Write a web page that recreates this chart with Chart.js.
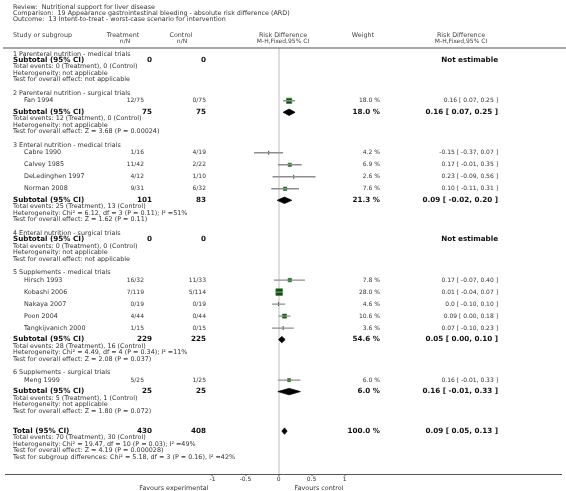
<!DOCTYPE html>
<html>
<head>
<meta charset="utf-8">
<script src="https://cdn.jsdelivr.net/npm/chart.js@4.4.1/dist/chart.umd.min.js"></script>
<style>
  html, body { margin: 0; padding: 0; background: #fff; }
  #wrap { width: 566px; height: 491px; }
</style>
</head>
<body>
<div id="wrap"><canvas id="forest" width="566" height="491"></canvas></div>
<script>
// ---- data ----
const titleLines = [
  "Review:  Nutritional support for liver disease",
  "Comparison:  19 Appearance gastrointestinal bleeding - absolute risk difference (ARD)",
  "Outcome:  13 Intent-to-treat - worst-case scenario for intervention"
];
const groupTitles = [
  "1 Parenteral nutrition - medical trials",
  "2 Parenteral nutrition - surgical trials",
  "3 Enteral nutrition - medical trials",
  "4 Enteral nutrition - surgical trials",
  "5 Supplements - medical trials",
  "6 Supplements - surgical trials"
];
const studyNames = ["Fan 1994", "Cabre 1990", "Calvey 1985", "DeLedinghen 1997", "Norman 2008",
  "Hirsch 1993", "Kobashi 2006", "Nakaya 2007", "Poon 2004", "Tangkijvanich 2000", "Meng 1999"];
const studyGroup = [1, 2, 2, 2, 2, 4, 4, 4, 4, 4, 5];
const treatmentNN = ["12/75", "1/16", "11/42", "4/12", "9/31", "16/32", "7/119", "0/19", "4/44", "1/15", "5/25"];
const controlNN = ["0/75", "4/19", "2/22", "1/10", "6/32", "11/33", "5/114", "0/19", "0/44", "0/15", "1/25"];
const studyWeight = [18.0, 4.2, 6.9, 2.6, 7.6, 7.8, 28.0, 4.6, 10.6, 3.6, 6.0];
const studyRD = [0.16, -0.15, 0.17, 0.23, 0.10, 0.17, 0.01, 0.0, 0.09, 0.07, 0.16];
const studyLow = [0.07, -0.37, -0.01, -0.09, -0.11, -0.07, -0.04, -0.10, 0.00, -0.10, -0.01];
const studyHigh = [0.25, 0.07, 0.35, 0.56, 0.31, 0.40, 0.07, 0.10, 0.18, 0.23, 0.33];

const subTreatment = [0, 75, 101, 0, 229, 25];
const subControl = [0, 75, 83, 0, 225, 25];
const subWeight = [null, 18.0, 21.3, null, 54.6, 6.0];
const subRD = [null, 0.16, 0.09, null, 0.05, 0.16];
const subLow = [null, 0.07, -0.02, null, 0.00, -0.01];
const subHigh = [null, 0.25, 0.20, null, 0.10, 0.33];
const subEvents = [
  "Total events: 0 (Treatment), 0 (Control)",
  "Total events: 12 (Treatment), 0 (Control)",
  "Total events: 25 (Treatment), 13 (Control)",
  "Total events: 0 (Treatment), 0 (Control)",
  "Total events: 28 (Treatment), 16 (Control)",
  "Total events: 5 (Treatment), 1 (Control)"
];
const subHetero = [
  "Heterogeneity: not applicable",
  "Heterogeneity: not applicable",
  "Heterogeneity: Chi\u00b2 = 6.12, df = 3 (P = 0.11); I\u00b2 =51%",
  "Heterogeneity: not applicable",
  "Heterogeneity: Chi\u00b2 = 4.49, df = 4 (P = 0.34); I\u00b2 =11%",
  "Heterogeneity: not applicable"
];
const subTest = [
  "Test for overall effect: not applicable",
  "Test for overall effect: Z = 3.68 (P = 0.00024)",
  "Test for overall effect: Z = 1.62 (P = 0.11)",
  "Test for overall effect: not applicable",
  "Test for overall effect: Z = 2.08 (P = 0.037)",
  "Test for overall effect: Z = 1.80 (P = 0.072)"
];

const totalTreatment = 430;
const totalControl = 408;
const totalWeight = 100.0;
const totalRD = 0.09;
const totalLow = 0.05;
const totalHigh = 0.13;
const totalNotes = [
  "Total events: 70 (Treatment), 30 (Control)",
  "Heterogeneity: Chi\u00b2 = 19.47, df = 10 (P = 0.03); I\u00b2 =49%",
  "Test for overall effect: Z = 4.19 (P = 0.000028)",
  "Test for subgroup differences: Chi\u00b2 = 5.18, df = 3 (P = 0.16), I\u00b2 =42%"
];

const tickValues = [-1, -0.5, 0, 0.5, 1];
const tickLabels = ["-1", "-0.5", "0", "0.5", "1"];

// ---- row layout (y in plot units, one unit = one pixel) ----
const HEAD_TO_STUDY = 7.5, STUDY_STEP = 12, STUDY_TO_SUB = 11.5, HEAD_TO_SUB = 6.3;
const NOTE_STEP = 6.5, GROUP_GAP = 13.5, TOTAL_GAP = 20;

const headY = [], subY = [], studyY = [];
let cursor = 54;
groupTitles.forEach((t, g) => {
  if (g > 0) cursor += GROUP_GAP;
  headY[g] = cursor;
  const members = studyNames.map((n, i) => i).filter((i) => studyGroup[i] === g);
  if (members.length) {
    cursor += HEAD_TO_STUDY;
    members.forEach((i, k) => {
      if (k > 0) cursor += STUDY_STEP;
      studyY[i] = cursor;
    });
    cursor += STUDY_TO_SUB;
  } else {
    cursor += HEAD_TO_SUB;
  }
  subY[g] = cursor;
  cursor += NOTE_STEP * 3;
});
const totalY = cursor + TOTAL_GAP;

// ---- datasets ----
const datasets = [];

studyNames.forEach((name, i) => {
  datasets.push({
    type: "line",
    data: [{ x: studyLow[i], y: studyY[i] }, { x: studyHigh[i], y: studyY[i] }],
    borderColor: "#8e8e8e",
    borderWidth: 1.4,
    pointRadius: 0,
    fill: false
  });
});

const small = (i) => studyWeight[i] < 5;
datasets.push({
  type: "scatter",
  data: studyNames.map((n, i) => ({ x: studyRD[i], y: studyY[i] })),
  pointStyle: (c) => (small(c.dataIndex) ? "line" : "rect"),
  rotation: (c) => (small(c.dataIndex) ? 90 : 0),
  pointRadius: (c) => (small(c.dataIndex) ? 2 : (1.25 * Math.sqrt(studyWeight[c.dataIndex])) / Math.SQRT2),
  backgroundColor: "#0d4a0d",
  borderColor: (c) => (small(c.dataIndex) ? "#444" : "#2c8a2c"),
  borderWidth: (c) => (small(c.dataIndex) ? 1 : 0.7)
});

function addDiamond(lo, est, hi, y, h) {
  datasets.push({
    type: "line",
    data: [{ x: lo, y: y }, { x: est, y: y - h }, { x: hi, y: y }],
    borderColor: "#000",
    borderWidth: 0.8,
    backgroundColor: "#000",
    pointRadius: 0,
    tension: 0,
    fill: "+1"
  });
  datasets.push({
    type: "line",
    data: [{ x: lo, y: y }, { x: est, y: y + h }, { x: hi, y: y }],
    borderColor: "#000",
    borderWidth: 0.8,
    pointRadius: 0,
    tension: 0,
    fill: false
  });
}
groupTitles.forEach((t, g) => {
  if (subRD[g] !== null) addDiamond(subLow[g], subRD[g], subHigh[g], subY[g], 3.2);
});
addDiamond(totalLow, totalRD, totalHigh, totalY, 3.2);

// ---- table text ----
const FONT = '"DejaVu Sans", Verdana, sans-serif';
const fText = "6.4px " + FONT;
const fCol = "6px " + FONT;
const fBold = "bold 7.2px " + FONT;
const fmtRD = (v) => (v === 0 ? "0.0" : v.toFixed(2));
const ciText = (e, lo, hi) => fmtRD(e) + " [ " + lo.toFixed(2) + ", " + hi.toFixed(2) + " ]";

const tablePlugin = {
  id: "forestTable",
  afterDraw(chart) {
    const ctx = chart.ctx;
    const yPix = (v) => chart.scales.y.getPixelForValue(v);
    const put = (s, x, y, align, font, color) => {
      ctx.font = font;
      ctx.fillStyle = color || "#333";
      ctx.textAlign = align;
      ctx.textBaseline = "middle";
      ctx.fillText(s, x, y);
    };
    ctx.save();

    titleLines.forEach((s, k) => put(s, 13, 7 + k * 6.3, "left", fText, "#333"));

    put("Study or subgroup", 13, 35, "left", fText, "#444");
    put("Treatment", 123, 35, "center", fText, "#444");
    put("n/N", 125, 41.5, "center", fCol, "#444");
    put("Control", 181, 35, "center", fText, "#444");
    put("n/N", 182, 41.5, "center", fCol, "#444");
    put("Risk Difference", 283, 35, "center", fText, "#444");
    put("M-H,Fixed,95% CI", 283, 41.5, "center", fCol, "#444");
    put("Weight", 363, 35, "center", fText, "#444");
    put("Risk Difference", 461, 35, "center", fText, "#444");
    put("M-H,Fixed,95% CI", 461, 41.5, "center", fCol, "#444");

    ctx.strokeStyle = "#8a8a8a";
    ctx.lineWidth = 1.4;
    ctx.beginPath();
    ctx.moveTo(3, 48);
    ctx.lineTo(566, 48);
    ctx.stroke();

    groupTitles.forEach((t, g) => {
      put(t, 13, yPix(headY[g]), "left", fText);
      const sy = yPix(subY[g]);
      put("Subtotal (95% CI)", 13, sy, "left", fBold, "#111");
      put(String(subTreatment[g]), 152, sy, "right", fBold, "#111");
      put(String(subControl[g]), 206, sy, "right", fBold, "#111");
      if (subRD[g] === null) {
        put("Not estimable", 498, sy, "right", fBold, "#111");
      } else {
        put(subWeight[g].toFixed(1) + " %", 380, sy, "right", fBold, "#111");
        put(ciText(subRD[g], subLow[g], subHigh[g]), 498, sy, "right", fBold, "#111");
      }
      const base = subY[g];
      put(subEvents[g], 13, yPix(base + NOTE_STEP), "left", fText);
      put(subHetero[g], 13, yPix(base + NOTE_STEP * 2), "left", fText);
      put(subTest[g], 13, yPix(base + NOTE_STEP * 3), "left", fText);
    });

    studyNames.forEach((n, i) => {
      const sy = yPix(studyY[i]);
      put(n, 24, sy, "left", fText);
      put(treatmentNN[i], 144, sy, "right", fCol);
      put(controlNN[i], 206, sy, "right", fCol);
      put(studyWeight[i].toFixed(1) + " %", 380, sy, "right", fCol);
      put(ciText(studyRD[i], studyLow[i], studyHigh[i]), 498, sy, "right", fCol);
    });

    const ty = yPix(totalY);
    put("Total (95% CI)", 13, ty, "left", fBold, "#111");
    put(String(totalTreatment), 152, ty, "right", fBold, "#111");
    put(String(totalControl), 206, ty, "right", fBold, "#111");
    put(totalWeight.toFixed(1) + " %", 380, ty, "right", fBold, "#111");
    put(ciText(totalRD, totalLow, totalHigh), 498, ty, "right", fBold, "#111");
    totalNotes.forEach((s, k) => put(s, 13, yPix(totalY + NOTE_STEP * (k + 1)), "left", fText));

    const xs = chart.scales.x;
    put("Favours experimental", xs.getPixelForValue(-1) - 4, 488, "right", fText);
    put("Favours control", xs.getPixelForValue(0) + 16, 488, "left", fText);

    ctx.restore();
  }
};

new Chart(document.getElementById("forest"), {
  type: "scatter",
  data: { datasets },
  plugins: [tablePlugin],
  options: {
    responsive: false,
    animation: false,
    devicePixelRatio: 1,
    layout: { padding: { top: 48, left: 3, right: 0, bottom: 0 } },
    plugins: { legend: { display: false }, tooltip: { enabled: false } },
    scales: {
      x: {
        type: "linear",
        min: -4.134,
        max: 4.269,
        afterBuildTicks: (s) => { s.ticks = tickValues.map((v) => ({ value: v })); },
        afterFit: (s) => { s.height = 17; },
        ticks: {
          autoSkip: false,
          maxRotation: 0,
          padding: 0,
          color: "#333",
          font: { family: FONT, size: 6 },
          callback: (v) => tickLabels[tickValues.indexOf(v)]
        },
        grid: {
          color: (c) => (c.tick && c.tick.value === 0 ? "#dedede" : "rgba(0,0,0,0)"),
          lineWidth: 2,
          tickColor: "#555",
          tickLength: 2,
          tickWidth: 1
        },
        border: { display: true, color: "#555", width: 1 }
      },
      y: {
        type: "linear",
        display: false,
        reverse: true,
        min: 48,
        max: 474
      }
    }
  }
});
</script>
</body>
</html>
